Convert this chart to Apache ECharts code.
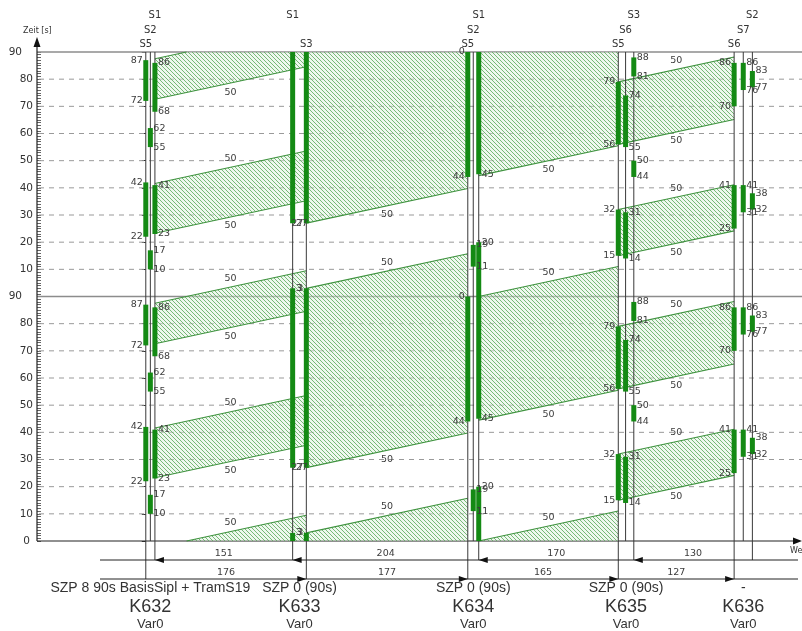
<!DOCTYPE html>
<html><head><meta charset="utf-8">
<script src="https://cdn.jsdelivr.net/npm/echarts@6/dist/echarts.min.js"></script>
<style>html,body{margin:0;padding:0;background:#fff}#c{width:802px;height:631px}</style>
</head><body><div id="c"></div>
<script>
// ---------------- data ----------------
const cycleTime = 90;
const timeTickLabels = ['0','10','20','30','40','50','60','70','80','90','10','20','30','40','50','60','70','80','90'];
const nodeNames = ['K632','K633','K634','K635','K636'];
const nodePlans = ['SZP 8 90s BasisSipl + TramS19','SZP 0 (90s)','SZP 0 (90s)','SZP 0 (90s)','-'];
const nodeVariants = ['Var0','Var0','Var0','Var0','Var0'];
const sigNode = [0,0,0,1,1,2,2,2,3,3,3,4,4,4];
const sigName = ['S5','S2','S1','S1','S3','S5','S2','S1','S5','S6','S3','S6','S7','S2'];
const sigPos  = [0,5,10,161,176,353,359,365,518,526,535,645,655,665];           // m
const sigGreen = [
  [[72,87],[22,42]], [[55,62],[10,17]], [[68,86],[23,41]],
  [[27,93]], [[27,93]],
  [[44,90]], [[11,19]], [[45,110]],
  [[56,79],[15,32]], [[55,74],[14,31]], [[81,88],[44,50]],
  [[70,86],[25,41]], [[76,86],[31,41]], [[77,83],[32,38]]
];
const distRow1 = [151,204,170,130];
const distRow2 = [176,177,165,127];
const row1Start = 10, row2Start = 0;
const bandFrom  = [10,10,176,365,518,518];
const bandTo    = [176,176,353,518,645,645];
const bandLow   = [72.6,23.3,27,44.5,56,15];
const bandHigh  = [87.5,41.6,93,90,79,32];
const bandSpeed = [50,50,50,50,50,50];   // km/h

// ---------------- layout / style ----------------
const sigLabelSide = ['L','R','R','R','L','L','R','R','L','R','R','L','R','R'];
const sigNameRow   = [2,1,0,0,2,2,1,0,2,1,0,2,1,0];
const sigLineExt   = [2,0,1,1,2,2,0,1,2,0,1,2,0,1];
const X_MIN = -119.27, X_MAX = 719.4;
const BAR = '#148a14', TXT = '#3c3c3c', SMALL = '9.5px "DejaVu Sans"';

const hatch = document.createElement('canvas');
hatch.width = 8; hatch.height = 8;
(function(){
  const c = hatch.getContext('2d');
  c.fillStyle = 'rgba(220,240,220,0.45)'; c.fillRect(0,0,8,8);
  c.strokeStyle = 'rgba(90,170,90,0.8)'; c.lineWidth = 1;
  for (let o = -8; o <= 8; o += 4) { c.beginPath(); c.moveTo(o,0); c.lineTo(o+8,8); c.stroke(); }
})();

function clipHalf(pts, keep, bound) {
  const out = [];
  for (let i = 0; i < pts.length; i++) {
    const a = pts[i], b = pts[(i+1) % pts.length];
    const ia = keep(a), ib = keep(b);
    if (ia) out.push(a);
    if (ia !== ib) { const r = (bound - a[1]) / (b[1] - a[1]); out.push([a[0] + r*(b[0]-a[0]), bound]); }
  }
  return out;
}
function clipT(pts) {
  let p = clipHalf(pts, q => q[1] >= 0, 0);
  if (p.length) p = clipHalf(p, q => q[1] <= 180, 180);
  return p;
}
function clipSeg(p, q) {
  let [x1,t1] = p, [x2,t2] = q;
  if (t1 > t2) { [x1,t1,x2,t2] = [x2,t2,x1,t1]; }
  if (t2 < 0 || t1 > 180) return null;
  const f = t => x1 + (x2-x1)*(t-t1)/(t2-t1);
  let a = [x1,t1], b = [x2,t2];
  if (t1 < 0) a = [f(0),0];
  if (t2 > 180) b = [f(180),180];
  return [a,b];
}
const fmt = v => String(((v % cycleTime) + cycleTime) % cycleTime);

function buildChrome(api) {
  const ch = [];
  const y0 = api.coord([0,0])[1];
  const xL = api.coord([X_MIN,0])[0], xR = 802;
  for (let T = 10; T < 180; T += 10) {
    if (T === 90) continue;
    const y = api.coord([0,T])[1];
    ch.push({type:'line',shape:{x1:xL+2,y1:y,x2:xR,y2:y},style:{stroke:'#9a9a9a',lineWidth:1,lineDash:[5,5]}});
  }
  [90,180].forEach(T => {
    const y = api.coord([0,T])[1];
    ch.push({type:'line',shape:{x1:xL,y1:y,x2:xR,y2:y},style:{stroke:'#8c8c8c',lineWidth:1.5}});
  });
  ch.push({type:'line',shape:{x1:xL,y1:y0,x2:795,y2:y0},style:{stroke:'#222',lineWidth:1.2}});
  ch.push({type:'polygon',shape:{points:[[802,y0],[793,y0-3.5],[793,y0+3.5]]},style:{fill:'#111'}});
  ch.push({type:'line',shape:{x1:xL,y1:y0,x2:xL,y2:44},style:{stroke:'#222',lineWidth:1.2}});
  ch.push({type:'polygon',shape:{points:[[xL,37],[xL-3.5,47],[xL+3.5,47]]},style:{fill:'#111'}});
  ch.push({type:'text',style:{text:'Zeit [s]',x:23,y:31,fill:'#333',font:'8px "DejaVu Sans"',align:'left',verticalAlign:'middle'}});
  ch.push({type:'text',style:{text:'Weg [m]',x:790,y:551,fill:'#333',font:'8px "DejaVu Sans"',align:'left',verticalAlign:'middle'}});
  return ch;
}

function buildBands(api) {
  const ch = [], lbl = [];
  const pat = {image: hatch, repeat: 'repeat'};
  bandFrom.forEach((x0, i) => {
    const x1 = bandTo[i];
    const dt = (x1 - x0) / (bandSpeed[i] / 3.6);
    for (let k = -2; k <= 2; k++) {
      const lo = bandLow[i] + cycleTime*k, hi = bandHigh[i] + cycleTime*k;
      const poly = clipT([[x0,lo],[x1,lo+dt],[x1,hi+dt],[x0,hi]]);
      if (poly.length >= 3) ch.push({type:'polygon',shape:{points:poly.map(p => api.coord(p))},style:{fill:pat,stroke:null}});
      [[lo,1],[hi,-1]].forEach(([e,dir]) => {
        const s = clipSeg([x0,e],[x1,e+dt]);
        if (s) {
          const a = api.coord(s[0]), b = api.coord(s[1]);
          ch.push({type:'line',shape:{x1:a[0],y1:a[1],x2:b[0],y2:b[1]},style:{stroke:'#3f933f',lineWidth:1.1}});
        }
        const tm = e + dt/2;
        if (tm >= 0 && tm <= 180) {
          const c = api.coord([(x0+x1)/2, tm]);
          lbl.push({type:'text',style:{text:String(bandSpeed[i]),x:c[0],y:c[1]+9*dir,fill:TXT,font:SMALL,align:'center',verticalAlign:'middle'}});
        }
      });
    }
  });
  return ch.concat(lbl);
}

function buildSignals(api) {
  const lines = [], bars = [], lbl = [];
  const y0 = api.coord([0,0])[1], yTop = api.coord([0,180])[1];
  sigPos.forEach((m, i) => {
    const x = api.coord([m,0])[0];
    const ext = [0,19,38][sigLineExt[i]];
    lines.push({type:'line',shape:{x1:x,y1:yTop,x2:x,y2:y0+ext},style:{stroke:'#3a3a3a',lineWidth:1}});
    lbl.push({type:'text',style:{text:sigName[i],x:x,y:yTop-[37,22,8][sigNameRow[i]],fill:'#333',font:'10px "DejaVu Sans"',align:'center',verticalAlign:'middle'}});
    sigGreen[i].forEach(([a,b]) => {
      for (let k = -2; k <= 2; k++) {
        const A = a + cycleTime*k, B = b + cycleTime*k;
        const lo = Math.max(A,0), hi = Math.min(B,180);
        if (hi > lo) {
          const pA = api.coord([m,lo])[1], pB = api.coord([m,hi])[1];
          bars.push({type:'rect',shape:{x:x-2.5,y:pB,width:5,height:pA-pB},style:{fill:BAR}});
        }
        [[A,a],[B,b]].forEach(([T,v]) => {
          if (T > 0.3 && T <= 180.3) {
            const yy = api.coord([m,T])[1];
            const left = sigLabelSide[i] === 'L';
            lbl.push({type:'text',style:{text:fmt(v),x:left?x-3:x+3,y:yy,fill:TXT,font:SMALL,align:left?'right':'left',verticalAlign:'middle'}});
          }
        });
      }
    });
  });
  // node labels
  nodeNames.forEach((n, j) => {
    const xs = sigPos.filter((_, i) => sigNode[i] === j).map(m => api.coord([m,0])[0]);
    const cx = (Math.min(...xs) + Math.max(...xs)) / 2;
    lbl.push({type:'text',style:{text:nodePlans[j],x:cx,y:y0+47,fill:'#333',font:'14px "Liberation Sans"',align:'center',verticalAlign:'middle'}});
    lbl.push({type:'text',style:{text:n,x:cx,y:y0+66,fill:'#333',font:'18px "Liberation Sans"',align:'center',verticalAlign:'middle'}});
    lbl.push({type:'text',style:{text:nodeVariants[j],x:cx,y:y0+83,fill:'#333',font:'13px "Liberation Sans"',align:'center',verticalAlign:'middle'}});
  });
  // distance rows
  const rows = [[distRow1,row1Start,y0+19,'L'],[distRow2,row2Start,y0+38,'R']];
  rows.forEach(([d,start,yR,dir]) => {
    lines.push({type:'line',shape:{x1:100,y1:yR,x2:798,y2:yR},style:{stroke:'#222',lineWidth:1}});
    const refs = [start];
    d.forEach(v => refs.push(refs[refs.length-1] + v));
    const px = refs.map(m => api.coord([m,0])[0]);
    d.forEach((v, j) => {
      lbl.push({type:'text',style:{text:String(v),x:(px[j]+px[j+1])/2,y:yR-6,fill:TXT,font:SMALL,align:'center',verticalAlign:'middle'}});
    });
    if (dir === 'L') px.slice(0,4).forEach(t => lines.push({type:'polygon',shape:{points:[[t,yR],[t+9,yR-3],[t+9,yR+3]]},style:{fill:'#111'}}));
    else px.slice(1).forEach(t => lines.push({type:'polygon',shape:{points:[[t,yR],[t-9,yR-3],[t-9,yR+3]]},style:{fill:'#111'}}));
  });
  return lines.concat(bars, lbl);
}

const chart = echarts.init(document.getElementById('c'), null, {renderer:'canvas'});
chart.setOption({
  animation: false,
  grid: {left:37, right:0, top:52, bottom:90, containLabel:false},
  xAxis: {type:'value', min:X_MIN, max:X_MAX, show:false},
  yAxis: [
    {type:'value', min:0, max:180, interval:10, position:'left',
     axisLine:{show:false}, splitLine:{show:false},
     axisTick:{show:true, length:4, lineStyle:{color:'#333'}},
     axisLabel:{margin:4, color:'#333', fontFamily:'DejaVu Sans', fontSize:10.5, showMinLabel:true, showMaxLabel:true,
       formatter: v => { const s = timeTickLabels[Math.round(v/10)]; if (v === 0) return '{z|' + s + '}'; return (v % 90 === 0) ? '{w|' + s + '}' : s; },
       rich:{w:{padding:[0,11,0,0], fontFamily:'DejaVu Sans', fontSize:10.5, color:'#333'},
             z:{padding:[0,3,0,0], fontFamily:'DejaVu Sans', fontSize:10.5, color:'#333'}}}},
    {type:'value', min:0, max:180, interval:1, position:'left',
     axisLine:{show:false}, splitLine:{show:false}, axisLabel:{show:false},
     axisTick:{show:true, inside:true, length:4, lineStyle:{color:'#666'}}}
  ],
  series: [
    {type:'custom', clip:false, silent:true, z:1, data:[[0,0]], renderItem:(p,api)=>({type:'group',children:buildChrome(api)})},
    {type:'custom', clip:false, silent:true, z:2, data:[[0,0]], renderItem:(p,api)=>({type:'group',children:buildBands(api)})},
    {type:'custom', clip:false, silent:true, z:3, data:[[0,0]], renderItem:(p,api)=>({type:'group',children:buildSignals(api)})}
  ]
});
</script></body></html>
